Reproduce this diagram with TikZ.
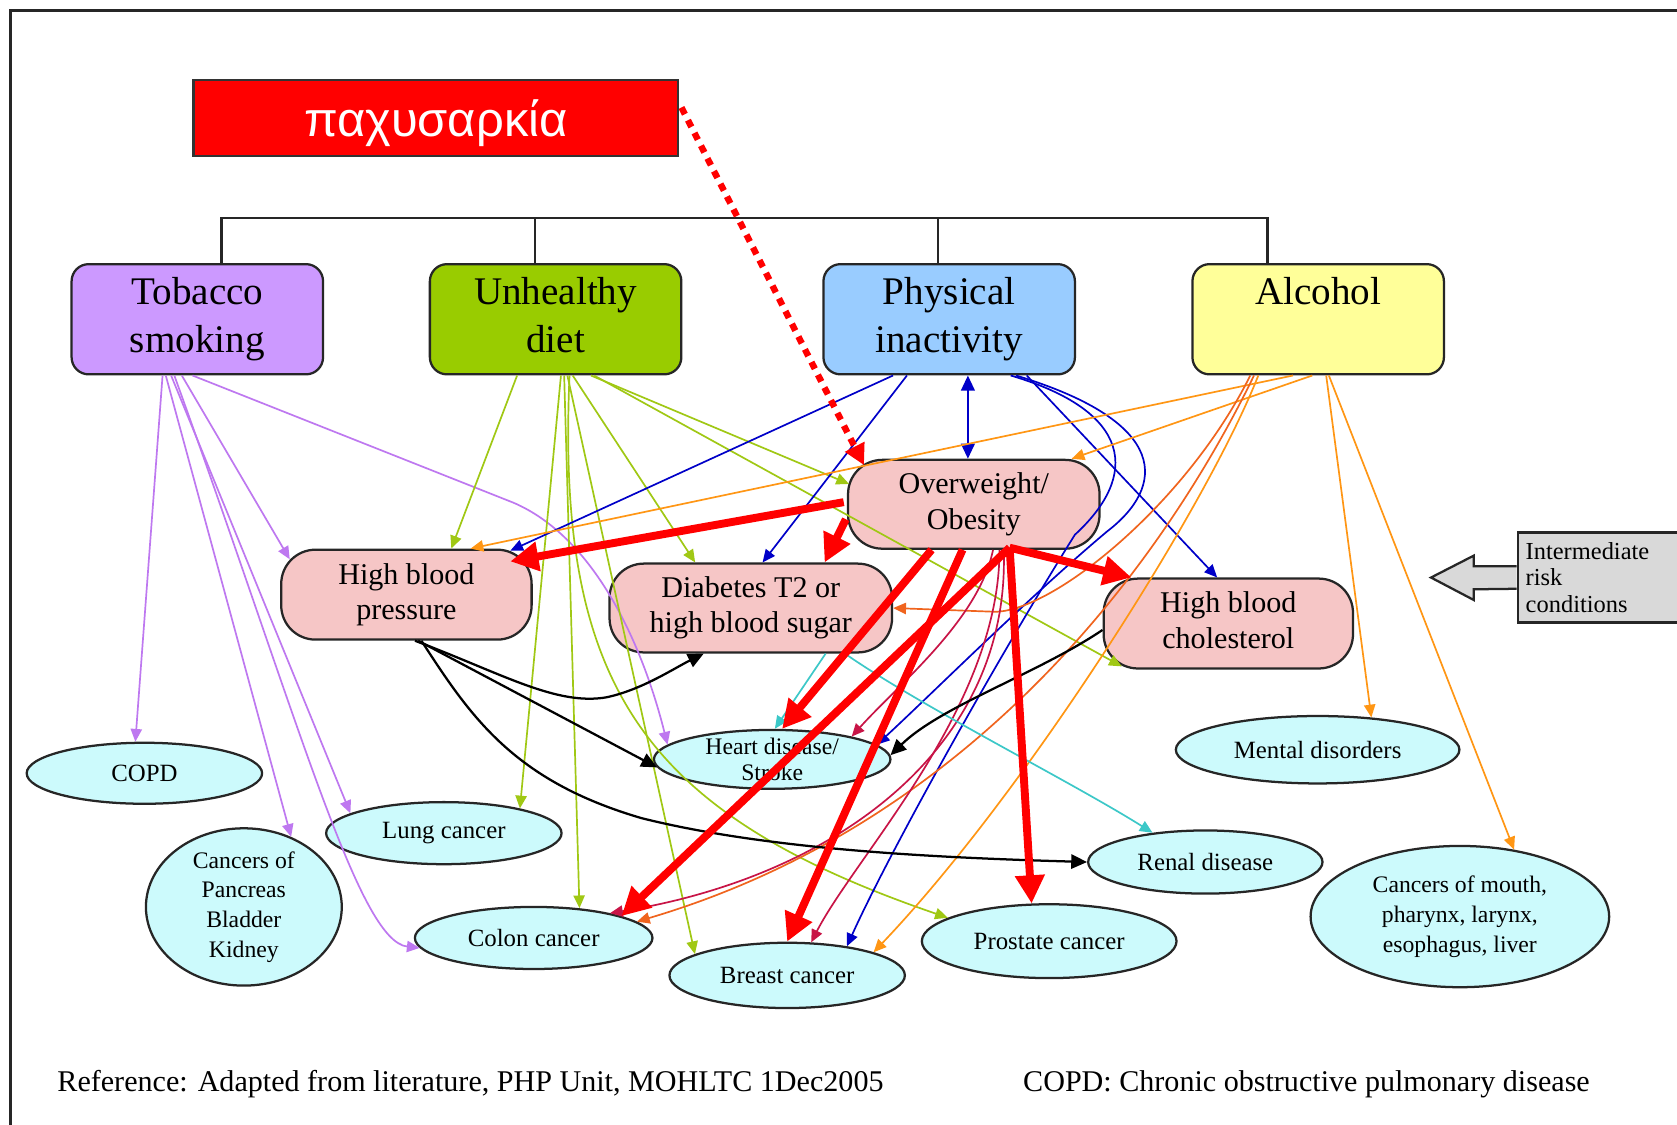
\documentclass[tikz,border=0pt]{standalone}
\usepackage{fontspec}
\setmainfont{Liberation Serif}
\newfontfamily\titlefont{Liberation Sans}
\usetikzlibrary{arrows.meta,shapes.geometric,calc}
\definecolor{cTob}{RGB}{204,153,255}
\definecolor{cDiet}{RGB}{153,204,0}
\definecolor{cPhys}{RGB}{153,204,255}
\definecolor{cAlc}{RGB}{255,255,153}
\definecolor{cPink}{RGB}{246,198,198}
\definecolor{cCyan}{RGB}{204,250,252}
\definecolor{cGray}{RGB}{217,217,217}
\definecolor{lPurp}{RGB}{190,120,240}
\definecolor{lGreen}{RGB}{160,200,20}
\definecolor{lBlue}{RGB}{0,0,200}
\definecolor{lOrange}{RGB}{255,150,20}
\definecolor{lOrRed}{RGB}{240,100,30}
\definecolor{lCrim}{RGB}{200,20,70}
\definecolor{lTeal}{RGB}{60,200,200}
\tikzset{
  frameline/.style={line width=0.7pt, draw=black!85},
  treeline/.style={line width=0.6pt, draw=black!85},
  topbox/.style={draw=black!85, line width=0.6pt, rounded corners=0.16cm, minimum width=2.35cm, minimum height=1.03cm, inner sep=0pt, align=center, font=\fontsize{10.4}{12.8}\selectfont},
  midbox/.style={draw=black!85, line width=0.6pt, rounded corners=0.32cm, fill=cPink, inner sep=0pt, align=center, font=\fontsize{8}{9.4}\selectfont},
  outc/.style={ellipse, draw=black!85, line width=0.6pt, fill=cCyan, inner xsep=0pt, inner ysep=-3pt, align=center, font=\fontsize{6.6}{7.9}\selectfont},
  outcsmall/.style={outc, font=\fontsize{6.3}{7.9}\selectfont},
  conn/.style={line width=0.45pt, -{Triangle[length=3.4pt,width=3pt]}},
  kconn/.style={line width=0.6pt, draw=black, -{Triangle[length=4.2pt,width=3.8pt]}},
  bigred/.style={draw=red, line width=2.1pt, -{Triangle[length=7.5pt,width=7.5pt]}},
  dotred/.style={draw=red, line width=1.7pt, dash pattern=on 2pt off 1.8pt, -{Triangle[length=5.5pt,width=5.5pt]}},
}
\begin{document}
\begin{tikzpicture}[x=0.01cm,y=-0.01cm]
\useasboundingbox (0,0) rectangle (1568,1051);
\clip (0,0) rectangle (1568,1051);
\fill[white] (0,0) rectangle (1568,1051);
\draw[frameline] (10,1060) -- (10,10) -- (1580,10);

% title
\node[draw=black!80, line width=0.6pt, fill=red, text=white, minimum width=4.53cm, minimum height=0.71cm, inner sep=0pt, font={\titlefont\fontsize{13}{15}\selectfont}] (title) at (407.5,110.5) {\raisebox{-1.4pt}[\height][\depth]{παχυσαρκία}};

% risk factor boxes
\node[topbox, fill=cTob] (tob) at (184.5,298.5) {\strut Tobacco\\\strut smoking};
\node[topbox, fill=cDiet] (diet) at (519.5,298.5) {\strut Unhealthy\\\strut diet};
\node[topbox, fill=cPhys] (phys) at (887.5,298.5) {\strut Physical\\\strut inactivity};
\node[topbox, fill=cAlc] (alc) at (1232.5,298.5) {\strut Alcohol\\\strut};

% tree
\draw[treeline] ($(tob.north)+(22.5,0)$) -- ++(0,-42) -| ($(alc.north)+(-47.5,0)$);
\draw[treeline] ($(diet.north)+(-19.5,0)$) -- ++(0,-42);
\draw[treeline] ($(phys.north)+(-10.5,0)$) -- ++(0,-42);

% intermediate conditions
\node[midbox, minimum width=2.35cm, minimum height=0.83cm] (ow) at (910.5,471.5) {\strut Overweight/\\\strut Obesity};
\node[midbox, minimum width=2.34cm, minimum height=0.84cm] (hbp) at (380,556) {\strut High blood\\\strut pressure};
\node[midbox, minimum width=2.64cm, minimum height=0.83cm] (diab) at (702,568.5) {\strut Diabetes T2 or\\\strut high blood sugar};
\node[midbox, minimum width=2.33cm, minimum height=0.84cm] (chol) at (1148.5,583) {\strut High blood\\\strut cholesterol};

% outcomes
\node[outc, minimum width=2.2cm, minimum height=0.57cm] (copd) at (135,723) {COPD};
\node[outc, minimum width=2.2cm, minimum height=0.58cm] (lung) at (415,779) {Lung cancer};
\node[outcsmall, minimum width=1.83cm, minimum height=1.47cm] (panc) at (228,848) {Cancers of\\Pancreas\\Bladder\\Kidney};
\node[outc, minimum width=2.22cm, minimum height=0.58cm] (colon) at (499,877) {Colon cancer};
\node[outc, minimum width=2.21cm, minimum height=0.55cm, font=\fontsize{6.3}{6.9}\selectfont] (heart) at (722,710) {Heart disease/\\Stroke};
\node[outc, minimum width=2.2cm, minimum height=0.61cm] (breast) at (736,912) {Breast cancer};
\node[outc, minimum width=2.38cm, minimum height=0.69cm] (prost) at (981,880) {Prostate cancer};
\node[outc, minimum width=2.19cm, minimum height=0.59cm] (renal) at (1127,806) {Renal disease};
\node[outc, minimum width=2.65cm, minimum height=0.63cm] (mental) at (1232,701) {Mental disorders};
\node[outcsmall, minimum width=2.79cm, minimum height=1.32cm] (mouth) at (1365,857) {Cancers of mouth,\\pharynx, larynx,\\esophagus, liver};

% callout
\node[draw=black!85, fill=cGray, line width=0.6pt, anchor=west, minimum width=1.7cm, minimum height=0.84cm, inner xsep=0.04cm, inner ysep=0pt, text width=1.55cm, align=left, font=\fontsize{6.5}{7}\selectfont] (irc) at (1418,540) {Intermediate\\risk\\conditions};
\draw[fill=cGray, draw=black!85, line width=0.6pt] ($(irc.west)+(0,-10.5)$) -- ++(-40,0) -- ++(0,-10) -- ($(irc.west)+(-80,0)$) -- ($(irc.west)+(-40,21)$) -- ++(0,-10) -- ($(irc.west)+(0,10.5)$);

% tobacco (purple)
\draw[conn, lPurp] ($(tob.south)+(-32.5,0)$) -- (copd.106);
\draw[conn, lPurp] ($(tob.south)+(-29.5,0)$) -- (panc.56);
\draw[conn, lPurp] ($(tob.south)+(-24.5,0)$) -- (lung.168);
\draw[conn, lPurp] ($(tob.south)+(-21.5,0)$) .. controls (280,675) and (335,880) .. (colon.185);
\draw[conn, lPurp] ($(tob.south)+(-14.5,0)$) -- ($(hbp.north west)+(9,10)$);
\draw[conn, lPurp] ($(tob.south)+(-4.5,0)$) -- (480,470) .. controls (555,502) and (600,600) .. (heart.172);

% diet (green)
\draw[conn, lGreen] ($(diet.south)+(-36,0)$) -- ($(hbp.north)+(42,0)$);
\draw[conn, lGreen] ($(diet.south)+(5,0)$) -- (lung.18);
\draw[conn, lGreen] ($(diet.south)+(8,0)$) -- (colon.33);
\draw[conn, lGreen] ($(diet.south)+(11,0)$) -- (breast.167);
\draw[conn, lGreen] ($(diet.south)+(13,0)$) .. controls (520,640) and (600,760) .. (prost.167);
\draw[conn, lGreen] ($(diet.south)+(16,0)$) -- ($(diab.north)+(-52,0)$);
\draw[conn, lGreen] ($(diet.south)+(33,0)$) -- ($(ow.west)+(2,-19)$);
\draw[conn, lGreen] ($(diet.south)+(36,0)$) -- ($(chol.south west)+(18,-3)$);

% physical inactivity (blue)
\draw[conn, lBlue] ($(phys.south)+(-52.5,0)$) -- ($(hbp.north east)+(-21,2)$);
\draw[conn, lBlue] ($(phys.south)+(-39.5,0)$) -- ($(diab.north)+(11,0)$);
\draw[lBlue, line width=0.6pt, {Triangle[length=4pt,width=3.6pt]}-{Triangle[length=4pt,width=3.6pt]}] ($(phys.south)+(17.5,0)$) -- ($(ow.north)+(-5.5,0)$);
\draw[conn, lBlue] ($(phys.south)+(72.5,0)$) -- ($(chol.north)+(-10.5,0)$);
\draw[conn, lBlue] ($(phys.south)+(62.5,0)$) .. controls (1095,395) and (1090,455) .. (1035,497) .. controls (960,560) and (870,650) .. (heart.8);
\draw[conn, lBlue] ($(phys.south)+(57.5,0)$) .. controls (1060,385) and (1065,445) .. (1005,500) .. controls (930,620) and (830,800) .. (breast.26);

% alcohol (orange)
\draw[conn, lOrange] ($(alc.south)+(-23.5,0)$) -- ($(hbp.north)+(60,0)$);
\draw[conn, lOrange] ($(alc.south)+(-5.5,0)$) -- ($(ow.north)+(91.5,0)$);
\draw[conn, lOrRed] ($(alc.south)+(-63.5,0)$) .. controls (1110,470) and (985,572) .. (930,572) -- (diab.east);
\draw[conn, lOrRed] ($(alc.south)+(-60,0)$) .. controls (1110,480) and (940,760) .. (colon.9);
\draw[conn, lOrange] ($(alc.south)+(-56,0)$) .. controls (1130,470) and (960,740) .. (breast.15);
\draw[conn, lOrange] ($(alc.south)+(7.5,0)$) -- (mental.31);
\draw[conn, lOrange] ($(alc.south)+(10,0)$) -- (mouth.51);

% overweight thin (crimson)
\draw[conn, lCrim] ($(ow.south)+(18,0)$) .. controls (915,580) and (840,640) .. (heart.16);
\draw[conn, lCrim] ($(ow.south)+(24,0)$) .. controls (935,660) and (800,800) .. (breast.54);
\draw[conn, lCrim] ($(ow.south)+(28,0)$) .. controls (945,700) and (780,820) .. (colon.18);

% diabetes (teal)
\draw[conn, lTeal] ($(diab.south)+(70,0)$) -- (heart.85);
\draw[conn, lTeal] ($(diab.south)+(88,0)$) .. controls (860,660) and (1000,730) .. (renal.151);

% black
\draw[kconn] ($(hbp.south)+(8,0)$) .. controls (470,630) and (520,660) .. (567,652) .. controls (600,645) and (630,625) .. ($(diab.south)+(-44,0)$);
\draw[kconn] ($(hbp.south)+(11,0)$) -- (heart.184);
\draw[kconn] ($(hbp.south)+(14,0)$) .. controls (440,670) and (480,730) .. (600,765) .. controls (720,795) and (880,802) .. (renal.west);
\draw[kconn] ($(chol.west)+(0,6)$) .. controls (970,630) and (880,660) .. (heart.2);

% dotted red from title
\draw[dotred] ($(title.east)+(2,-10)$) -- ($(ow.north west)+(16,6)$);

% thick red
\coordinate (rs) at ($(ow.south)+(33.5,-2)$);
\draw[bigred] ($(ow.west)+(-3,-2)$) -- ($(hbp.north east)+(-21,12)$);
\draw[bigred] ($(ow.west)+(-1,14)$) -- ($(diab.north)+(69,0)$);
\draw[bigred] ($(ow.south)+(-39.5,0)$) -- (heart.72);
\draw[bigred] ($(ow.south)+(-10.5,0)$) -- (breast.90);
\draw[bigred] (rs) -- (colon.14);
\draw[bigred] (rs) -- ($(chol.north west)+(27,0)$);
\draw[bigred] (rs) -- (prost.115);

% footer
\node[anchor=base west, inner sep=0pt, font=\fontsize{8}{9.6}\selectfont] (refnote) at (53,1021) {Reference: Adapted from literature, PHP Unit, MOHLTC 1Dec2005};
\node[anchor=base west, inner sep=0pt, font=\fontsize{8}{9.6}\selectfont] (copdnote) at (956,1021) {COPD: Chronic obstructive pulmonary disease};
\end{tikzpicture}
\end{document}
